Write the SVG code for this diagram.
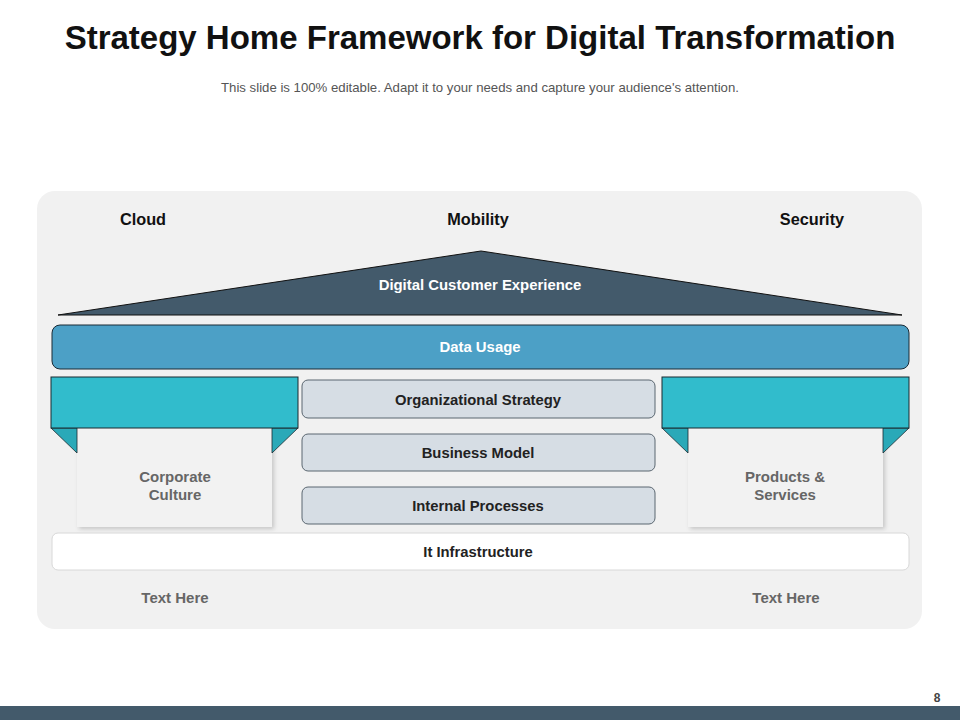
<svg xmlns="http://www.w3.org/2000/svg" width="960" height="720" viewBox="0 0 960 720">
<defs>
<style>
text{font-family:"Liberation Sans",Arial,sans-serif;text-anchor:middle}
.title{font-size:33px;font-weight:bold;fill:#111}
.sub{font-size:13.2px;fill:#555}
.cat{font-size:16.3px;font-weight:bold;fill:#111}
.wl{font-size:14.9px;font-weight:bold;fill:#fff}
.dl{font-size:14.8px;font-weight:bold;fill:#222}
.gl{font-size:15px;font-weight:bold;fill:#666}
.box{fill:#d6dde4;stroke:#5a6670;stroke-width:1}
.band{fill:#31bccc;stroke:#1a2a30;stroke-width:1}
.tail{fill:#2aa9b8;stroke:#1a2a30;stroke-width:0.8}
.card{fill:#f2f2f2}
</style>
<filter id="sh" x="-10%" y="-10%" width="130%" height="130%">
<feDropShadow dx="2" dy="2" stdDeviation="2" flood-color="#000" flood-opacity="0.18"/>
</filter>
</defs>
<rect width="960" height="720" fill="#fff"/>
<text class="title" x="480" y="49">Strategy Home Framework for Digital Transformation</text>
<text class="sub" x="480" y="92">This slide is 100% editable. Adapt it to your needs and capture your audience's attention.</text>
<rect x="37" y="191" width="885" height="438" rx="18" fill="#f1f1f1"/>
<g id="cloud"><text class="cat" x="143" y="225">Cloud</text></g>
<g id="mobility"><text class="cat" x="478" y="225">Mobility</text></g>
<g id="security"><text class="cat" x="812" y="225">Security</text></g>
<g id="roof">
<polygon points="58,315 481,251 902,315" fill="#435a6b" stroke="#111" stroke-width="1"/>
<text class="wl" x="480" y="290">Digital Customer Experience</text>
</g>
<g id="data-usage">
<rect x="52" y="325" width="857" height="44" rx="8" fill="#4ca0c6" stroke="#1a2a35" stroke-width="1"/>
<text class="wl" x="480" y="352">Data Usage</text>
</g>
<g id="corporate-culture">
<rect class="card" x="77" y="428" width="195" height="99" filter="url(#sh)"/>
<polygon class="tail" points="51,428 77,428 77,453"/>
<polygon class="tail" points="272,428 298,428 272,453"/>
<rect class="band" x="51" y="377" width="247" height="51"/>
<text class="gl" x="175" y="482">Corporate</text>
<text class="gl" x="175" y="500">Culture</text>
</g>
<g id="products-services">
<rect class="card" x="688" y="428" width="195" height="99" filter="url(#sh)"/>
<polygon class="tail" points="662,428 688,428 688,453"/>
<polygon class="tail" points="883,428 909,428 883,453"/>
<rect class="band" x="662" y="377" width="247" height="51"/>
<text class="gl" x="785" y="482">Products &amp;</text>
<text class="gl" x="785" y="500">Services</text>
</g>
<g id="org-strategy">
<rect class="box" x="302" y="380" width="353" height="38" rx="6"/>
<text class="dl" x="478" y="405">Organizational Strategy</text>
</g>
<g id="business-model">
<rect class="box" x="302" y="434" width="353" height="37" rx="6"/>
<text class="dl" x="478" y="458">Business Model</text>
</g>
<g id="internal-processes">
<rect class="box" x="302" y="487" width="353" height="37" rx="6"/>
<text class="dl" x="478" y="511">Internal Processes</text>
</g>
<g id="it-infrastructure">
<rect x="52" y="533" width="857" height="37" rx="6" fill="#fff" stroke="#d8d8d8" stroke-width="1"/>
<text class="dl" x="478" y="557">It Infrastructure</text>
</g>
<g id="text-left"><text class="gl" x="175" y="603">Text Here</text></g>
<g id="text-right"><text class="gl" x="786" y="603">Text Here</text></g>
<g id="connectors"></g>
<text x="937" y="702" style="font-size:12px;font-weight:bold;fill:#444">8</text>
<rect x="0" y="706" width="960" height="14" fill="#435a6b"/>
</svg>
